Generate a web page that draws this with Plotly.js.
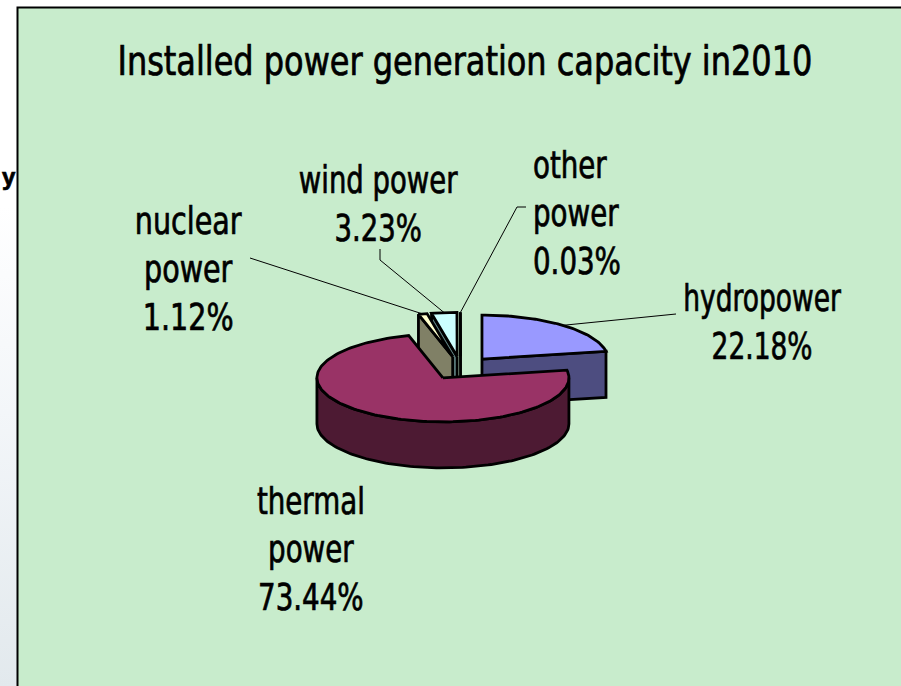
<!DOCTYPE html>
<html><head><meta charset="utf-8">
<script src="https://cdn.plot.ly/plotly-3.0.1.min.js"></script>
<style>
html,body{margin:0;padding:0;overflow:hidden;}
body{background:linear-gradient(to bottom,#ffffff 0%,#ffffff 30%,#f3f6f9 60%,#e2e9ed 100%);}
#chart{width:901px;height:686px;}
.gtitle,.annotation-text{font-stretch:condensed;stroke:#000000;stroke-width:0.7px;}
</style></head><body><div id="chart"></div>
<script>
// ---- data ----
const categories = ['hydropower', 'thermal power', 'nuclear power', 'wind power', 'other power'];
const shares = [22.18, 73.44, 1.12, 3.23, 0.03];
const labelNames = ['hydropower', 'thermal<br>power', 'nuclear<br>power', 'wind power', 'other<br>power'];
const chartTitle = 'Installed power generation capacity in2010';

// ---- style ----
const topColors = ['#9999FF', '#993366', '#FFFFCC', '#CCFFFF', '#FFFFFF'];
const sideColors = ['#4D4D80', '#4D1A33', '#808066', '#5F8080', '#E8E8E8'];
const FONT = "'DejaVu Sans', sans-serif";
const geo = {cx: 460.6, cy: 368, rx: 126, ry: 44, depth: 46, explode: 33.3};
const labelPos = [
  {x: 762, y: 322, align: 'center', xanchor: 'center', w: 158},
  {x: 311, y: 549, align: 'center', xanchor: 'center', w: 108},
  {x: 188, y: 269, align: 'center', xanchor: 'center', w: 107},
  {x: 378, y: 204, align: 'center', xanchor: 'center', w: 159},
  {x: 531, y: 213, align: 'left', xanchor: 'left', w: 88}
];
const titleWidth = 695;
const leaderFrom = [[[676, 314]], null, [[250, 258]], [[380, 249], [380, 260]], [[526, 207], [517, 207]]];

const rad = d => d * Math.PI / 180;
const total = shares.reduce((s, v) => s + v, 0);
const k = geo.ry / geo.rx;

function rim(c, th, down) {
  return [c[0] + geo.rx * Math.sin(rad(th)), c[1] - geo.ry * Math.cos(rad(th)) + (down || 0)];
}
function arc(c, a, b, down) {
  const n = Math.max(2, Math.ceil(Math.abs(b - a) / 1.5));
  const pts = [];
  for (let i = 0; i <= n; i++) pts.push(rim(c, a + (b - a) * i / n, down));
  return pts;
}
function poly(pts, fill) {
  return {
    type: 'scatter', mode: 'lines', fill: 'toself', fillcolor: fill,
    x: pts.map(p => p[0]), y: pts.map(p => p[1]),
    line: {color: '#000000', width: 2.8, shape: 'linear'},
    hoverinfo: 'skip', showlegend: false
  };
}

const slices = [];
let cum = 0;
shares.forEach((v, i) => {
  const a = cum / total * 360, b = (cum + v) / total * 360;
  cum += v;
  const mid = (a + b) / 2;
  const c = [geo.cx + geo.explode * Math.sin(rad(mid)), geo.cy - geo.explode * k * Math.cos(rad(mid))];
  slices.push({i, a, b, mid, c});
});

const traces = [];
slices.slice().sort((p, q) => Math.cos(rad(q.mid)) - Math.cos(rad(p.mid))).forEach(s => {
  const {i, a, b, c} = s;
  const d = geo.depth;
  const apexBot = [c[0], c[1] + d];
  if (Math.sin(rad(a)) < -1e-6) {
    traces.push(poly([c, rim(c, a), rim(c, a, d), apexBot, c], sideColors[i]));
  }
  if (Math.sin(rad(b)) > 1e-6) {
    traces.push(poly([c, rim(c, b), rim(c, b, d), apexBot, c], sideColors[i]));
  }
  const wa = Math.max(a, 90), wb = Math.min(b, 270);
  if (wb > wa) {
    const top = arc(c, wa, wb, 0);
    const bot = arc(c, wb, wa, d);
    traces.push(poly(top.concat(bot, [top[0]]), sideColors[i]));
  }
  traces.push(poly([c].concat(arc(c, a, b, 0), [c]), topColors[i]));
});

// leader lines
slices.forEach(s => {
  const from = leaderFrom[s.i];
  if (!from) return;
  const pts = from.concat([rim(s.c, s.mid)]);
  traces.push({
    type: 'scatter', mode: 'lines', x: pts.map(p => p[0]), y: pts.map(p => p[1]),
    line: {color: '#000000', width: 1}, hoverinfo: 'skip', showlegend: false
  });
});

const annotations = slices.map(s => ({
  x: labelPos[s.i].x, y: labelPos[s.i].y, xref: 'x', yref: 'y',
  xanchor: labelPos[s.i].xanchor, yanchor: 'middle', align: labelPos[s.i].align,
  text: labelNames[s.i] + '<br>' + shares[s.i].toFixed(2) + '%',
  showarrow: false, font: {family: FONT, size: 37, color: '#000000'}
}));
annotations.push({
  x: 0, y: 176, xref: 'x', yref: 'y', xanchor: 'left', yanchor: 'middle',
  text: '<b>y</b>', showarrow: false, font: {family: 'Liberation Sans, sans-serif', size: 24, color: '#000'}
});

const layout = {
  width: 901, height: 686,
  margin: {l: 0, r: 0, t: 0, b: 0},
  paper_bgcolor: 'rgba(0,0,0,0)', plot_bgcolor: 'rgba(0,0,0,0)',
  xaxis: {range: [0, 901], visible: false, fixedrange: true},
  yaxis: {range: [686, 0], visible: false, fixedrange: true},
  title: {
    text: chartTitle, x: 0.516, xanchor: 'center', y: 0.911, yanchor: 'middle',
    font: {family: FONT, size: 40, color: '#000000'}
  },
  shapes: [{
    type: 'rect', xref: 'x', yref: 'y', x0: 17.5, y0: 7.5, x1: 910, y1: 700,
    fillcolor: '#C8ECCC', line: {color: '#000000', width: 2}, layer: 'below'
  }],
  annotations: annotations,
  showlegend: false
};

function squeeze(el, targetW, anchor) {
  const bb = el.getBBox();
  if (!bb.width) return;
  const sx = targetW / bb.width;
  const ax = anchor === 'left' ? bb.x : bb.x + bb.width / 2;
  const prev = el.getAttribute('transform') || '';
  el.setAttribute('transform', prev + ' translate(' + ax + ',0) scale(' + sx + ',1) translate(' + (-ax) + ',0)');
}

Plotly.newPlot('chart', traces, layout, {staticPlot: true, displayModeBar: false}).then(gd => {
  const t = gd.querySelector('.gtitle');
  if (t) squeeze(t, titleWidth, 'center');
  const ann = gd.querySelectorAll('.annotation-text');
  ann.forEach((el, j) => {
    if (j < labelPos.length) squeeze(el, labelPos[j].w, labelPos[j].xanchor);
  });
});
</script></body></html>
